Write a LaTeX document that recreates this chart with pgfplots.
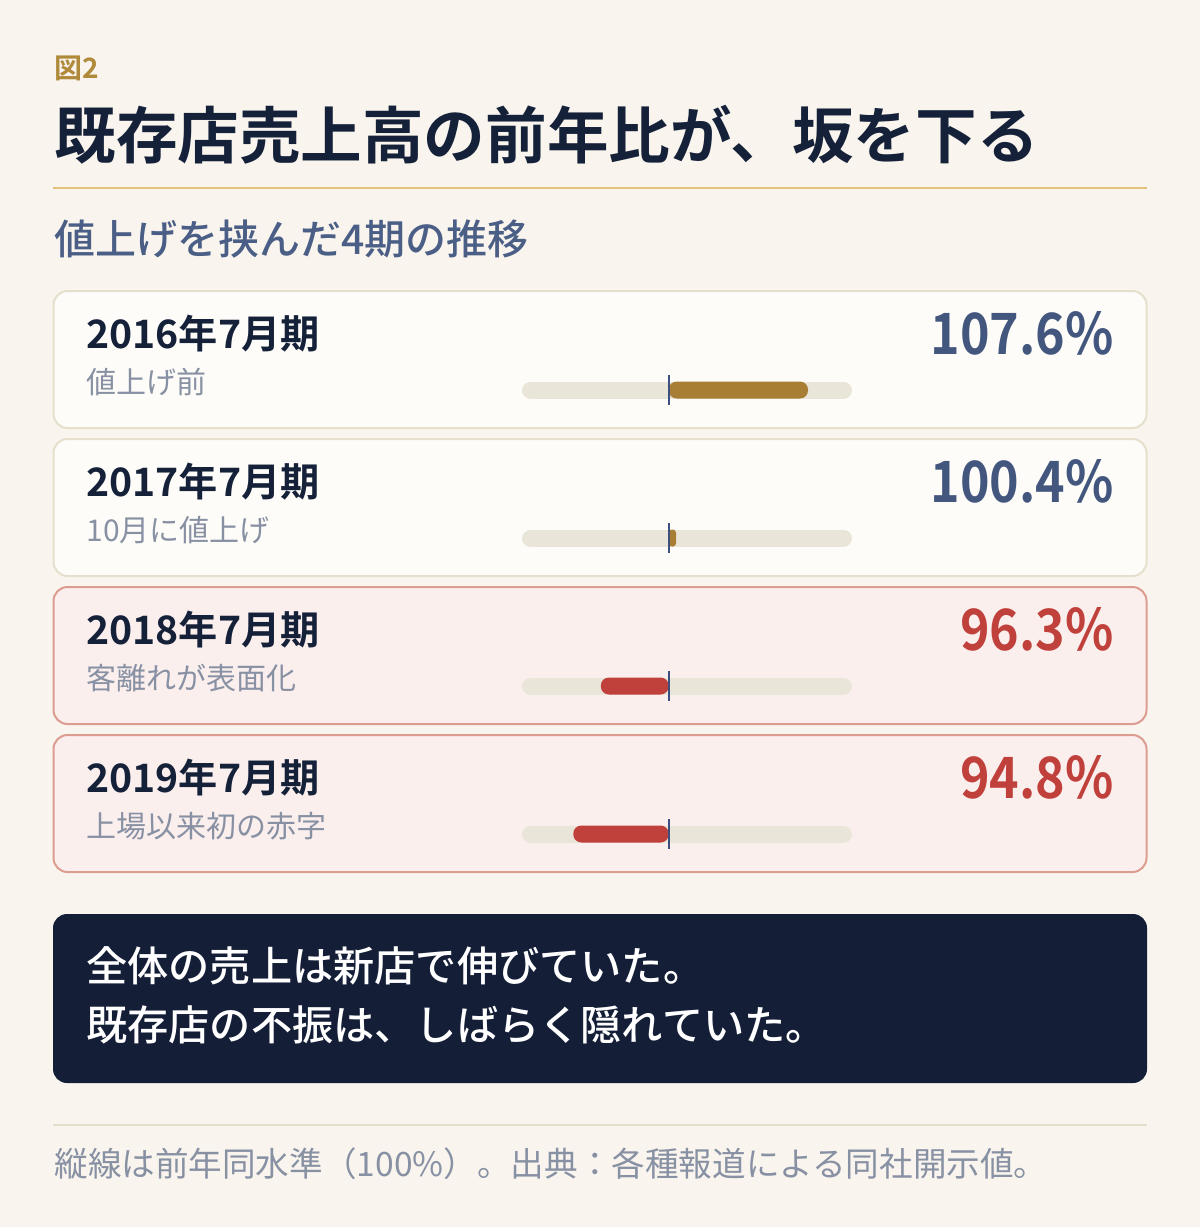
\documentclass[border=0pt]{standalone}
\usepackage{fontspec}
\usepackage{pgfplots}
\pgfplotsset{compat=1.18}
\setmainfont{Noto Sans CJK JP}
\newfontfamily\jpbold{Noto Sans CJK JP Bold}
\newfontfamily\jpmed{Noto Sans CJK JP Medium}
\newfontfamily\valfont[FakeStretch=0.88]{Noto Sans CJK JP Bold}

\definecolor{bgc}{HTML}{F9F5EE}
\definecolor{cardw}{HTML}{FDFCF8}
\definecolor{cardwb}{HTML}{E5DFCC}
\definecolor{cardr}{HTML}{FBEFEE}
\definecolor{cardrb}{HTML}{DC9C8F}
\definecolor{trackc}{HTML}{E9E5D9}
\definecolor{goldbar}{HTML}{A87E34}
\definecolor{goldt}{HTML}{B08A3A}
\definecolor{rulegold}{HTML}{E2C27C}
\definecolor{redbar}{HTML}{C0403C}
\definecolor{refc}{HTML}{3C5080}
\definecolor{valnavy}{HTML}{43577E}
\definecolor{navy}{HTML}{152139}
\definecolor{subblue}{HTML}{4B5F86}
\definecolor{subgray}{HTML}{8891A3}
\definecolor{darkbox}{HTML}{141E37}
\definecolor{footrule}{HTML}{E4DDCB}

\begin{document}
\begin{tikzpicture}[x=0.5pt,y=-0.5pt]
% background (1 unit = 1 px of the reference)
\fill[bgc] (0,0) rectangle (1200,1227);

% header
\node[anchor=west,inner sep=0,text=goldt,font={\jpbold\fontsize{14pt}{16pt}\selectfont}] at (54,68) {図2};
\node[anchor=west,inner sep=0,text=navy,font={\jpbold\fontsize{30.8pt}{34pt}\selectfont}] at (54,135) {既存店売上高の前年比が、坂を下る};
\draw[rulegold,line width=1pt] (53,188) -- (1147,188);
\node[anchor=west,inner sep=0,text=subblue,font={\jpmed\fontsize{20.5pt}{24pt}\selectfont}] at (54,239) {値上げを挟んだ4期の推移};

% cards
\filldraw[fill=cardw,draw=cardwb,line width=1pt,rounded corners=7pt] (53.5,291) rectangle (1146.5,428);
\filldraw[fill=cardw,draw=cardwb,line width=1pt,rounded corners=7pt] (53.5,439) rectangle (1146.5,576);
\filldraw[fill=cardr,draw=cardrb,line width=1pt,rounded corners=7pt] (53.5,587) rectangle (1146.5,724);
\filldraw[fill=cardr,draw=cardrb,line width=1pt,rounded corners=7pt] (53.5,735) rectangle (1146.5,872);

\tikzset{lab/.style={anchor=west,inner sep=0,text=navy,font={\jpbold\fontsize{19.6pt}{24pt}\selectfont}},
  note/.style={anchor=west,inner sep=0,text=subgray,font={\fontsize{15pt}{18pt}\selectfont}},
  val/.style={anchor=east,inner sep=0,font={\valfont\fontsize{28.5pt}{32pt}\selectfont}}}
\node[lab] at (86,334) {2016年7月期};
\node[note] at (86,382) {値上げ前};
\node[val,text=valnavy] at (1114,333) {107.6\%};
\node[lab] at (86,482) {2017年7月期};
\node[note] at (86,530) {10月に値上げ};
\node[val,text=valnavy] at (1114,481) {100.4\%};
\node[lab] at (86,630) {2018年7月期};
\node[note] at (86,678) {客離れが表面化};
\node[val,text=redbar] at (1114,629) {96.3\%};
\node[lab] at (86,778) {2019年7月期};
\node[note] at (86,826) {上場以来初の赤字};
\node[val,text=redbar] at (1114,777) {94.8\%};

% bars
\begin{axis}[at={(261pt,-158pt)},anchor=north west,scale only axis,
  width=165pt,height=296pt,xmin=92,xmax=110,ymin=-0.5,ymax=3.5,
  y dir=reverse,hide axis,clip=false]
  \draw[trackc,line width=8.5pt,line cap=round] (axis cs:92.4636,0) -- (axis cs:109.5364,0);
  \draw[trackc,line width=8.5pt,line cap=round] (axis cs:92.4636,1) -- (axis cs:109.5364,1);
  \draw[trackc,line width=8.5pt,line cap=round] (axis cs:92.4636,2) -- (axis cs:109.5364,2);
  \draw[trackc,line width=8.5pt,line cap=round] (axis cs:92.4636,3) -- (axis cs:109.5364,3);
  % 2016: 107.6
  \addplot[fill=goldbar,draw=none,rounded corners=4pt] coordinates
    {(100,0) (100,-0.0574) (107.6,-0.0574) (107.6,0.0574) (100,0.0574) (100,0)};
  % 2017: 100.4
  \addplot[fill=goldbar,draw=none,rounded corners=1.6pt] coordinates
    {(100,1) (100,0.9426) (100.4,0.9426) (100.4,1.0574) (100,1.0574) (100,1)};
  % 2018: 96.3
  \addplot[fill=redbar,draw=none,rounded corners=4pt] coordinates
    {(100,2) (100,1.9426) (96.3,1.9426) (96.3,2.0574) (100,2.0574) (100,2)};
  % 2019: 94.8
  \addplot[fill=redbar,draw=none,rounded corners=4pt] coordinates
    {(100,3) (100,2.9426) (94.8,2.9426) (94.8,3.0574) (100,3.0574) (100,3)};
  \draw[refc,line width=1pt] (axis cs:100,-0.101) -- (axis cs:100,0.101);
  \draw[refc,line width=1pt] (axis cs:100,0.899) -- (axis cs:100,1.101);
  \draw[refc,line width=1pt] (axis cs:100,1.899) -- (axis cs:100,2.101);
  \draw[refc,line width=1pt] (axis cs:100,2.899) -- (axis cs:100,3.101);
\end{axis}

% message box
\fill[darkbox,rounded corners=7pt] (53,914) rectangle (1147,1083);
\node[anchor=west,inner sep=0,text=white,font={\jpmed\fontsize{20.6pt}{24pt}\selectfont}] at (86,966) {全体の売上は新店で伸びていた。};
\node[anchor=west,inner sep=0,text=white,font={\jpmed\fontsize{20.6pt}{24pt}\selectfont}] at (86,1025) {既存店の不振は、しばらく隠れていた。};

% footer
\draw[footrule,line width=1pt] (53,1125) -- (1147,1125);
\node[anchor=west,inner sep=0,text=subgray,font={\fontsize{16.8pt}{20pt}\selectfont}] at (54,1164) {縦線は前年同水準（100\%）。出典：各種報道による同社開示値。};
\end{tikzpicture}
\end{document}
